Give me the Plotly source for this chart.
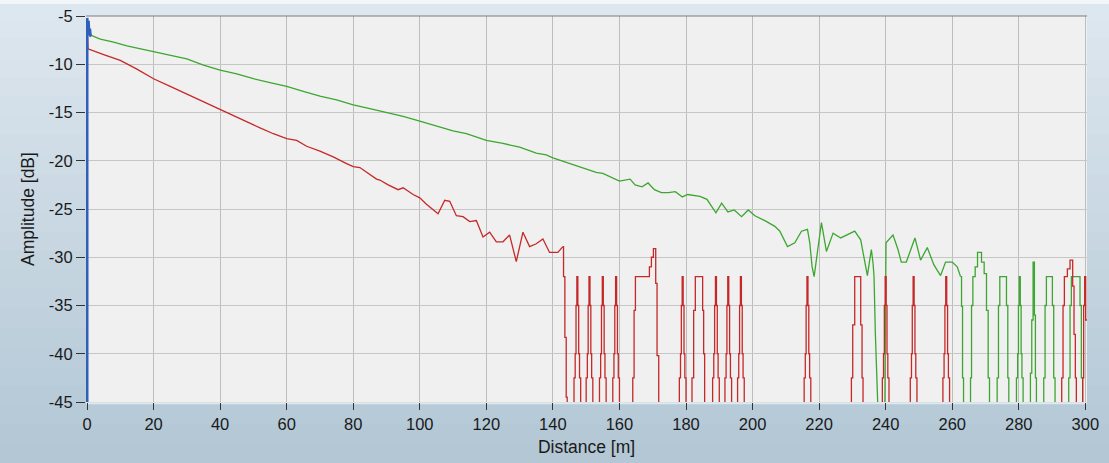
import plotly.graph_objects as go

# ---------------- data ----------------
x_ticks = [0, 20, 40, 60, 80, 100, 120, 140, 160, 180, 200, 220, 240, 260, 280, 300]
y_ticks = [-5, -10, -15, -20, -25, -30, -35, -40, -45]

blue_x = [0, 0, 0.2, 0.4, 0.6, 0.8, 1.0, 1.3]
blue_y = [-45, -5.2, -6.4, -5.5, -6.9, -6.3, -7.0, -7.1]

# green: sloping part (drawn with straight segments)
green_trend_x = [
    0.2, 0.5, 4, 8, 12, 16, 20, 25, 30, 35, 40, 45, 50, 55, 60, 65, 70, 75, 80, 85,
    90, 95, 100, 105, 110, 114, 118, 120, 125, 130, 135, 138, 140, 145, 150, 153, 155, 158, 160,
    163.2, 164.7, 166.8, 168.6, 170.5, 172.6, 174.7, 176.8, 178.9, 180.5, 184.2, 186.3,
    189.0, 190.7, 192.6, 194.5, 196.7, 198.7, 200.7, 203.7, 206.7, 208.2, 210.5, 212.7,
    214.7, 216.5, 217.2, 217.9, 218.5, 219.5, 220.7, 222.2, 224.2, 226.5, 230.7, 232.5,
    234.5, 235.2, 235.7, 236.2, 236.5, 236.9, 237.5, 237.9,
    239.7, 239.9, 240.1, 242.2, 243.7, 244.7, 246.2, 248.8, 250.5, 252.5, 254.5, 256.5,
    258.0, 260.0, 261.5, 262.5,
]
green_trend_y = [
    -5.6, -6.9, -7.4, -7.7, -8.1, -8.4, -8.75, -9.1, -9.45, -10.1, -10.6, -11.0, -11.5, -11.9, -12.3, -12.8, -13.3, -13.7, -14.2, -14.6,
    -15.0, -15.4, -15.9, -16.4, -16.9, -17.2, -17.7, -17.9, -18.2, -18.6, -19.2, -19.4, -19.7, -20.3, -20.9, -21.2, -21.3, -21.8, -22.1,
    -21.9, -22.5, -22.7, -22.3, -23.0, -23.3, -23.3, -23.2, -23.75, -23.5, -23.7, -24.0,
    -25.4, -24.4, -25.3, -25.1, -25.8, -25.1, -25.7, -26.2, -26.8, -27.3, -28.9, -28.5,
    -27.3, -27.1, -28.5, -31.0, -32.0, -29.6, -26.4, -29.4, -27.5, -28.0, -27.3, -28.2,
    -31.9, -30.3, -29.2, -30.6, -32.0, -37.9, -44.5, -48,
    -48, -40, -28.5, -27.7, -29.2, -30.5, -30.5, -28.0, -30.3, -29.0, -30.8, -31.9,
    -30.5, -30.5, -31.0, -32.0,
]
# green: noise-floor part (drawn as steps)
green_noise_x = [
    262.5, 262.8, 263.1, 263.4,
    265.5, 265.8, 266.2, 266.9, 267.6, 268.8, 269.6, 270.3, 270.8, 271.2,
    273.5, 273.9, 274.3, 276.3, 276.7, 277.0,
    279.3, 279.65, 279.9, 280.15, 280.45, 280.7, 280.95, 281.3,
    283.5, 283.9, 284.3, 284.7, 285.0, 285.3,
    287.5, 287.9, 288.3, 290.1, 290.5, 290.9,
    295.0, 295.4, 295.8, 298.4, 298.8, 299.2, 300.5,
]
green_noise_y = [
    -32.0, -35.1, -42.5, -48,
    -42.5, -35, -32, -31, -29.5, -30.5, -31.7, -35.5, -42.5, -48,
    -42.5, -35, -32, -35, -42.5, -48,
    -42.5, -40, -35, -32, -35, -40, -42.5, -48,
    -42, -36.5, -30.5, -36, -42.5, -48,
    -42.5, -35, -32, -35, -42.5, -48,
    -42.5, -35, -32, -35, -42.5, -48, -48,
]

# red: sloping part
red_trend_x = [
    0.0, 0.3, 5, 10, 15, 20, 25, 30, 35, 40, 44, 48, 52, 56, 60, 63, 66, 70, 74, 78, 80, 82, 85, 87, 88,
    90.5, 93.5, 95, 98, 100, 102, 105.5, 107.5, 109, 111, 113, 115, 117, 119, 121, 123, 125, 127,
    129, 131, 133, 135, 137, 139, 141.5, 143.0,
]
red_trend_y = [
    -5.4, -8.4, -9.0, -9.6, -10.5, -11.5, -12.3, -13.1, -13.9, -14.7, -15.4, -16.0, -16.6, -17.2, -17.7, -17.9, -18.5, -19.0, -19.6, -20.3, -20.6, -20.7, -21.4, -21.9, -22.0,
    -22.5, -23.0, -22.8, -23.5, -23.85, -24.5, -25.5, -24.1, -24.2, -25.7, -25.8, -26.3, -26.2, -27.9, -27.4, -28.4, -28.4, -27.7,
    -30.45, -27.4, -28.9, -28.6, -28.1, -29.5, -29.5, -28.9,
]
# red: noise-floor part (drawn as steps)
red_noise_x = [
    143.0, 143.2, 143.6, 144.0, 144.3,
    146.35, 146.7, 146.95, 147.2, 147.5, 147.75, 148.0, 148.35,
    150.0, 150.35, 150.6, 150.85, 151.15, 151.4, 151.65, 152.0,
    154.0, 154.35, 154.6, 154.85, 155.15, 155.4, 155.65, 156.0,
    158.0, 158.35, 158.6, 158.85, 159.15, 159.4, 159.65, 160.0,
    164.0, 164.4, 164.8, 169.0, 169.6, 170.2, 170.9, 171.3, 171.8,
    178.0, 178.35, 178.6, 178.85, 179.15, 179.4, 179.65, 180.0,
    181.8, 182.3, 182.8, 185.0, 185.3, 185.6,
    188.0, 188.35, 188.6, 188.85, 189.15, 189.4, 189.65, 190.0,
    191.7, 192.05, 192.3, 192.55, 192.85, 193.1, 193.35, 193.7,
    195.5, 195.85, 196.1, 196.35, 196.65, 196.9, 197.15, 197.5,
    215.5, 215.85, 216.1, 216.35, 216.65, 216.9, 217.15, 217.5,
    229.7, 230.1, 230.7, 232.5, 232.9, 233.2,
    239.0, 239.35, 239.6, 239.85, 240.15, 240.4, 240.65, 241.0,
    247.4, 247.75, 248.0, 248.25, 248.55, 248.8, 249.05, 249.4,
    257.2, 257.55, 257.8, 258.05, 258.35, 258.6, 258.85, 259.2,
    292.9, 293.3, 293.7, 294.6, 295.4, 296.2, 296.6, 297.0, 297.3,
    299.2, 299.5, 299.8, 300.1, 300.5,
]
red_noise_y = [
    -28.9, -32.0, -38.3, -44.5, -48,
    -42.5, -40, -35, -32, -35, -40, -42.5, -48,
    -42.5, -40, -35, -32, -35, -40, -42.5, -48,
    -42.5, -40, -35, -32, -35, -40, -42.5, -48,
    -42.5, -40, -35, -32, -35, -40, -42.5, -48,
    -42.5, -35.5, -32, -31.0, -30.0, -29.1, -32.7, -40.2, -48,
    -42.5, -40, -35, -32, -35, -40, -42.5, -48,
    -42.5, -35.5, -32, -35.5, -40, -48,
    -42.5, -40, -35, -32, -35, -40, -42.5, -48,
    -42.5, -40, -35, -32, -35, -40, -42.5, -48,
    -42.5, -40, -35, -32, -35, -40, -42.5, -48,
    -42.5, -40, -35, -32, -35, -40, -42.5, -48,
    -42.5, -37, -32, -37, -42.5, -48,
    -42.5, -40, -35, -32, -35, -40, -42.5, -48,
    -42.5, -40, -35, -32, -35, -40, -42.5, -48,
    -42.5, -40, -35, -32, -35, -40, -42.5, -48,
    -42.5, -35, -32, -31.2, -30.3, -33, -38, -42.5, -48,
    -42.5, -35, -32, -36.5, -36.5,
]

# ---------------- styling ----------------
W, H = 1109, 463
ML, MR, MT, MB = 86, 22, 16, 61
FONT = "Liberation Sans, Arial, sans-serif"
GREEN, RED, BLUE = "#3da631", "#c62828", "#2f5fb8"
LW = 1.3

fig = go.Figure()
fig.add_trace(go.Scatter(x=green_trend_x, y=green_trend_y, mode="lines",
                         line=dict(color=GREEN, width=LW), hoverinfo="skip"))
fig.add_trace(go.Scatter(x=green_noise_x, y=green_noise_y, mode="lines",
                         line=dict(color=GREEN, width=LW, shape="hv"), hoverinfo="skip"))
fig.add_trace(go.Scatter(x=red_trend_x, y=red_trend_y, mode="lines",
                         line=dict(color=RED, width=LW), hoverinfo="skip"))
fig.add_trace(go.Scatter(x=red_noise_x, y=red_noise_y, mode="lines",
                         line=dict(color=RED, width=LW, shape="hv"), hoverinfo="skip"))
fig.add_trace(go.Scatter(x=blue_x, y=blue_y, mode="lines",
                         line=dict(color=BLUE, width=3), hoverinfo="skip"))

# frame gradient (paper background)
shapes = []
top_c = (0xdd, 0xe7, 0xef)
bot_c = (0xb3, 0xc7, 0xd5)
plot_h = H - MT - MB
plot_w = W - ML - MR
N = 24
for i in range(N):
    t = i / (N - 1)
    c = tuple(int(round(top_c[k] + (bot_c[k] - top_c[k]) * t)) for k in range(3))
    py0 = H * i / N
    py1 = H * (i + 1) / N + 1
    shapes.append(dict(type="rect", xref="paper", yref="paper", layer="below",
                       x0=-ML / plot_w, x1=(W - ML) / plot_w,
                       y0=(H - MB - py1) / plot_h, y1=(H - MB - py0) / plot_h,
                       fillcolor="rgb(%d,%d,%d)" % c, line=dict(width=0)))
# light strip at very top
shapes.append(dict(type="rect", xref="paper", yref="paper", layer="below",
                   x0=-ML / plot_w, x1=(W - ML) / plot_w,
                   y0=(H - MB - 4) / plot_h, y1=(H - MB) / plot_h,
                   fillcolor="#f3f6f8", line=dict(width=0)))
# plot area background
shapes.append(dict(type="rect", xref="paper", yref="paper", layer="below",
                   x0=0, x1=1, y0=0, y1=1, fillcolor="#f0f0f0", line=dict(width=0)))
# top border of plot
shapes.append(dict(type="line", xref="paper", yref="paper", layer="above",
                   x0=0, x1=1, y0=1, y1=1, line=dict(color="#7d7d7d", width=1.2)))
# light bottom edge under the plot
shapes.append(dict(type="line", xref="paper", yref="paper", layer="below",
                   x0=0, x1=1, y0=-1.2 / plot_h, y1=-1.2 / plot_h,
                   line=dict(color="#e2e9ee", width=2)))

fig.update_layout(
    width=W, height=H,
    margin=dict(l=ML, r=MR, t=MT, b=MB, autoexpand=False),
    paper_bgcolor="#c8d7e2",
    plot_bgcolor="#f0f0f0",
    showlegend=False,
    shapes=shapes,
    font=dict(family=FONT, size=16, color="#1a1a1a"),
)
fig.update_xaxes(
    range=[-0.3, 300.5], tickmode="array", tickvals=x_ticks,
    ticktext=[str(v) for v in x_ticks], automargin=False,
    showgrid=True, gridcolor="#bdbdbd", gridwidth=1, zeroline=False,
    ticks="outside", ticklen=7, tickcolor="#333333", tickwidth=1,
    showline=False,
    title=dict(text="Distance [m]", standoff=8, font=dict(size=17.5)),
    tickfont=dict(size=16.5),
)
fig.update_yaxes(
    range=[-45, -5], tickmode="array", tickvals=y_ticks,
    ticktext=[str(v) for v in y_ticks], automargin=False,
    showgrid=True, gridcolor="#c6c6c6", gridwidth=1, zeroline=False,
    ticks="outside", ticklen=9, tickcolor="#333333", tickwidth=1,
    showline=False,
    title=dict(text="Amplitude [dB]", standoff=9, font=dict(size=17.5)),
    tickfont=dict(size=16.5),
)

fig.write_html("out.html", config={"displayModeBar": False},
               post_script="document.body.style.margin='0';")
